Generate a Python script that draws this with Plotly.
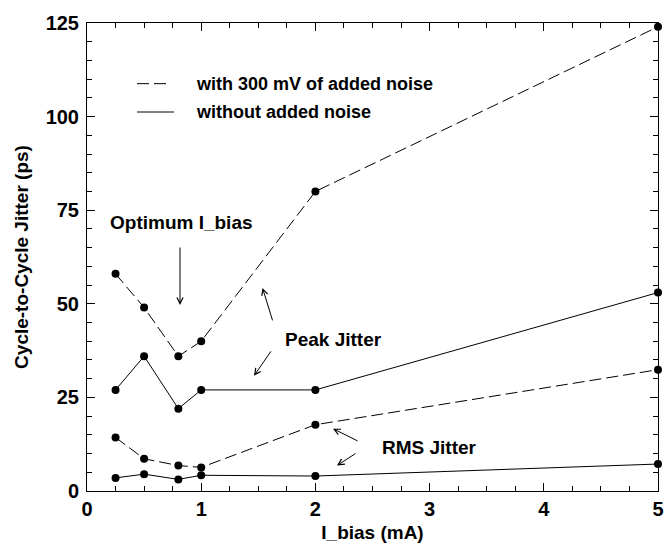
import plotly.graph_objects as go

# ---- data ----
i_bias = [0.25, 0.5, 0.8, 1.0, 2.0, 5.0]
peak_noise = [58, 49, 36, 40, 80, 124]
peak_clean = [27, 36, 22, 27, 27, 53]
rms_noise = [14.3, 8.6, 6.8, 6.3, 17.7, 32.4]
rms_clean = [3.5, 4.5, 3.1, 4.2, 4.0, 7.2]

legend_labels = ["with 300 mV of added noise", "without added noise"]
x_title = "I_bias (mA)"
y_title = "Cycle-to-Cycle Jitter (ps)"

FONT = "Liberation Sans, Arial, Helvetica, sans-serif"
DASH = "12px,5px"

fig = go.Figure()

def add_series(y, dash, name):
    fig.add_trace(go.Scatter(
        x=i_bias, y=y, mode="lines+markers", name=name,
        line=dict(color="black", width=1, dash=dash),
        marker=dict(color="black", size=8),
        showlegend=False, cliponaxis=False,
    ))

add_series(peak_noise, DASH, "Peak jitter, " + legend_labels[0])
add_series(peak_clean, "solid", "Peak jitter, " + legend_labels[1])
add_series(rms_noise, DASH, "RMS jitter, " + legend_labels[0])
add_series(rms_clean, "solid", "RMS jitter, " + legend_labels[1])

# pixel -> paper/data helpers for annotation placement
L, R, T, B = 87, 658, 22.5, 491.5
def dx(px):
    return (px - L) / (R - L) * 5.0
def dy(py):
    return (B - py) / (B - T) * 125.0
def px_(px):
    return (px - L) / (R - L)
def py_(py):
    return (B - py) / (B - T)

arrows = [
    ((180, 246), (180, 305)),
    ((273, 322), (262.5, 288)),
    ((272, 350), (254, 376)),
    ((359, 442), (333, 429)),
    ((357, 453), (337, 466)),
]
for (tx, ty), (hx, hy) in arrows:
    fig.add_annotation(
        x=dx(hx), y=dy(hy), ax=dx(tx), ay=dy(ty),
        xref="x", yref="y", axref="x", ayref="y",
        text="", showarrow=True, arrowhead=5, arrowsize=1.2,
        arrowwidth=1, arrowcolor="black",
    )

labels = [
    ("Optimum I_bias", 181, 222),
    ("Peak Jitter", 333, 340),
    ("RMS Jitter", 429, 448),
]
for txt, px, py in labels:
    fig.add_annotation(
        x=dx(px), y=dy(py), xref="x", yref="y", text=txt, showarrow=False,
        font=dict(family=FONT, size=19, color="black", weight="bold"),
    )

# manual legend (line samples without markers)
legend_rows = [(legend_labels[0], True, 83.3, 167), (legend_labels[1], False, 111.7, 174)]
for txt, dashed, yrow, xend in legend_rows:
    fig.add_shape(
        type="line", xref="paper", yref="paper",
        x0=px_(137), x1=px_(xend), y0=py_(yrow), y1=py_(yrow),
        line=dict(color="black", width=1, dash=DASH if dashed else "solid"),
    )
    fig.add_annotation(
        x=px_(194), y=py_(yrow), xref="paper", yref="paper",
        xanchor="left", yanchor="middle", text=txt, showarrow=False,
        font=dict(family=FONT, size=18, color="black", weight="bold"),
    )

axis_common = dict(
    showline=True, linecolor="black", linewidth=1, mirror="ticks",
    ticks="inside", ticklen=8, tickwidth=1, tickcolor="black",
    showgrid=False, zeroline=False, automargin=False,
    tickfont=dict(family=FONT, size=20, color="black", weight="bold"),
)

fig.update_xaxes(
    range=[0, 5], dtick=1, tick0=0, ticklabelstandoff=0,
    minor=dict(dtick=0.25, ticks="inside", ticklen=5, tickcolor="black", showgrid=False),
    title=dict(text=x_title, font=dict(family=FONT, size=19, color="black", weight="bold"), standoff=6),
    **axis_common,
)
fig.update_yaxes(
    range=[0, 125], dtick=25, tick0=0, ticklabelstandoff=3,
    minor=dict(dtick=5, ticks="inside", ticklen=5, tickcolor="black", showgrid=False),
    title=dict(text=y_title, font=dict(family=FONT, size=19, color="black", weight="bold"), standoff=11),
    **axis_common,
)

fig.update_layout(
    width=665, height=548,
    margin=dict(l=87, r=7, t=22.5, b=56.5),
    paper_bgcolor="white", plot_bgcolor="white",
    showlegend=False,
)

fig.write_html("out.html")
